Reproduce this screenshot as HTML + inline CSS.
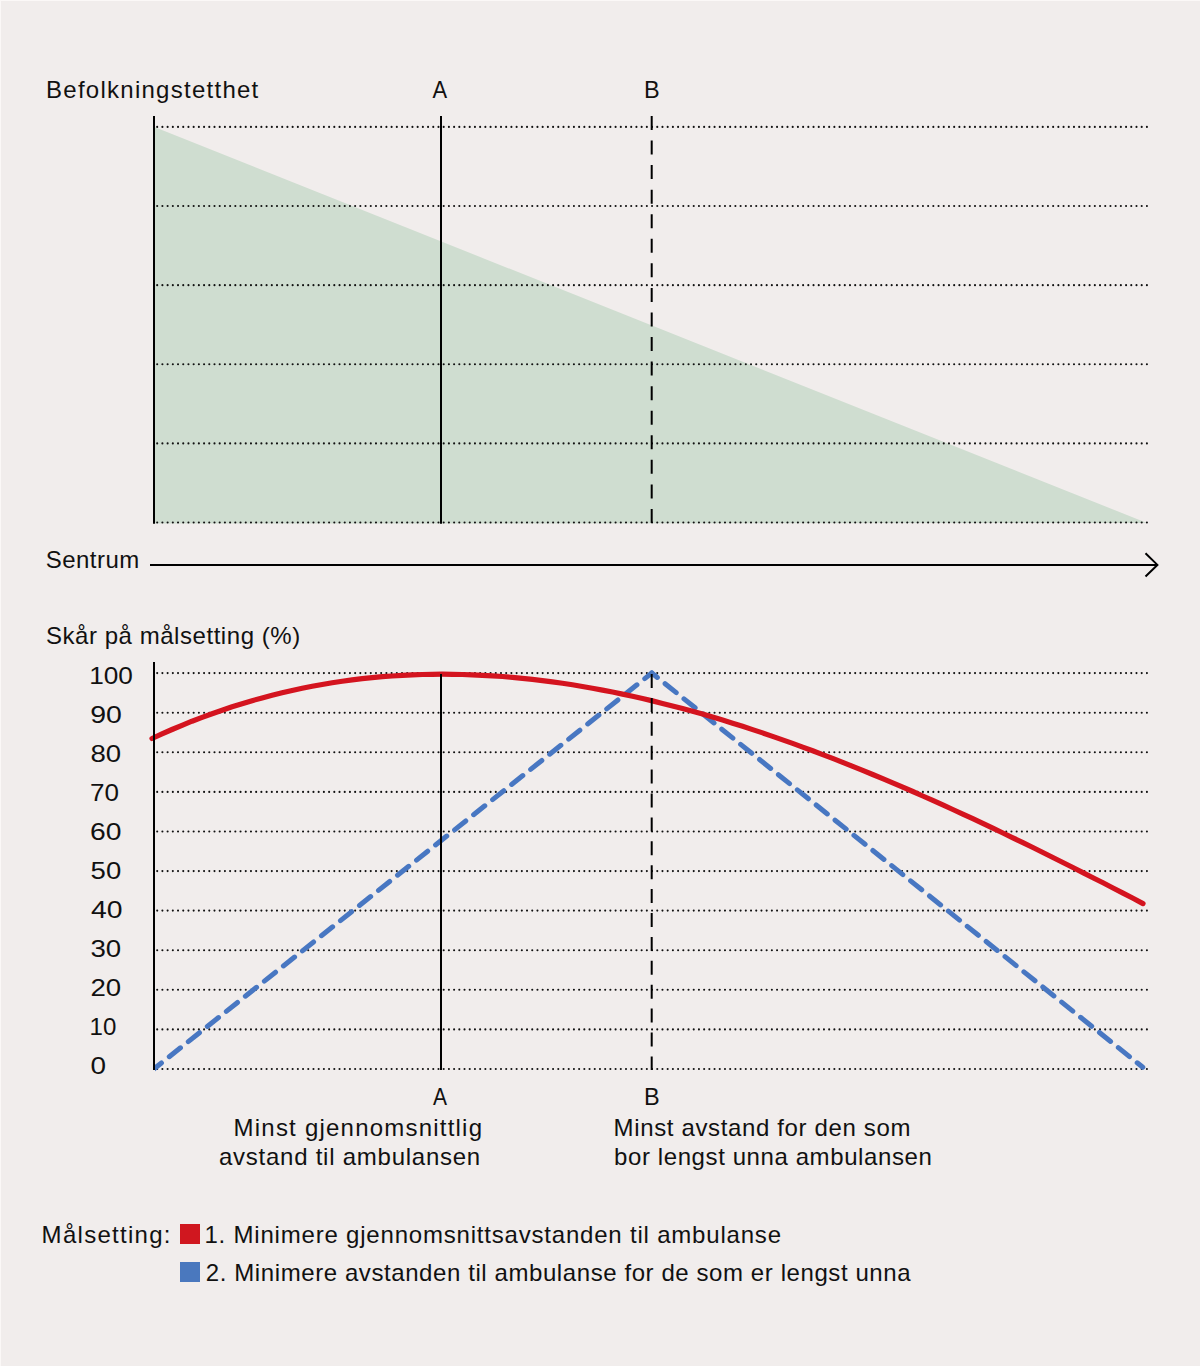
<!DOCTYPE html>
<html><head><meta charset="utf-8"><style>
html,body{margin:0;padding:0;background:#f1edec;}
svg{display:block}
.t{font-family:"Liberation Sans",sans-serif;font-size:24px;fill:#111;}
.blue{stroke:#4877c2;stroke-width:5;stroke-linecap:round;fill:none}
.dot{stroke:#111;stroke-width:2.1;stroke-dasharray:0 5.209;stroke-linecap:round}
</style></head><body>
<svg width="1200" height="1366" viewBox="0 0 1200 1366">
<defs><clipPath id="cb"><rect x="155" y="600" width="1000" height="480"/></clipPath></defs>
<rect x="0" y="0" width="1200" height="1366" fill="#f1edec"/>
<rect x="0" y="0" width="1200" height="1" fill="#fbf8f7"/>
<rect x="0" y="0" width="1" height="1366" fill="#fbf8f7"/>
<polygon points="155,127.3 1147,523 155,523.6" fill="#cfddd0"/>
<line x1="157.2" y1="126.9" x2="1148" y2="126.9" class="dot"/><line x1="157.2" y1="206.02" x2="1148" y2="206.02" class="dot"/><line x1="157.2" y1="285.14" x2="1148" y2="285.14" class="dot"/><line x1="157.2" y1="364.26" x2="1148" y2="364.26" class="dot"/><line x1="157.2" y1="443.38" x2="1148" y2="443.38" class="dot"/><line x1="157.2" y1="522.5" x2="1148" y2="522.5" class="dot"/>
<line x1="154" y1="116" x2="154" y2="523.8" stroke="#000" stroke-width="2"/>
<line x1="441" y1="116" x2="441" y2="523.8" stroke="#000" stroke-width="2"/>
<line x1="651.7" y1="116" x2="651.7" y2="523.4" stroke="#000" stroke-width="2" stroke-dasharray="14 10.56"/>
<line x1="150" y1="564.9" x2="1157" y2="564.9" stroke="#000" stroke-width="2"/>
<polyline points="1145.5,553.3 1157.4,564.9 1145.5,576.5" fill="none" stroke="#000" stroke-width="2"/>
<line x1="157.2" y1="673.1" x2="1148" y2="673.1" class="dot"/><line x1="157.2" y1="712.7" x2="1148" y2="712.7" class="dot"/><line x1="157.2" y1="752.3" x2="1148" y2="752.3" class="dot"/><line x1="157.2" y1="791.9" x2="1148" y2="791.9" class="dot"/><line x1="157.2" y1="831.5" x2="1148" y2="831.5" class="dot"/><line x1="157.2" y1="871.1" x2="1148" y2="871.1" class="dot"/><line x1="157.2" y1="910.6" x2="1148" y2="910.6" class="dot"/><line x1="157.2" y1="950.2" x2="1148" y2="950.2" class="dot"/><line x1="157.2" y1="989.8" x2="1148" y2="989.8" class="dot"/><line x1="157.2" y1="1029.4" x2="1148" y2="1029.4" class="dot"/><line x1="157.2" y1="1069.0" x2="1148" y2="1069.0" class="dot"/>

<line x1="153.8" y1="1069" x2="651.8" y2="673" class="blue" clip-path="url(#cb)" stroke-dasharray="14.3 10.0" stroke-dashoffset="4.55"/>
<line x1="651.8" y1="673" x2="1142.8" y2="1067.3" class="blue" stroke-dasharray="14.3 9.92" stroke-dashoffset="7.15"/>
<polyline points="152.0,738.5 162.0,733.9 172.0,729.5 182.0,725.3 192.0,721.2 202.1,717.4 212.1,713.7 222.1,710.2 232.1,706.8 242.1,703.7 252.1,700.7 262.1,697.9 272.1,695.3 282.1,692.8 292.1,690.5 302.2,688.3 312.2,686.3 322.2,684.5 332.2,682.8 342.2,681.3 352.2,679.9 362.2,678.7 372.2,677.7 382.2,676.7 392.2,676.0 402.3,675.3 412.3,674.9 422.3,674.5 432.3,674.3 442.3,674.2 452.3,674.3 462.3,674.5 472.3,674.8 482.3,675.3 492.3,675.8 502.4,676.5 512.4,677.4 522.4,678.3 532.4,679.4 542.4,680.6 552.4,681.9 562.4,683.3 572.4,684.8 582.4,686.5 592.4,688.2 602.5,690.1 612.5,692.0 622.5,694.1 632.5,696.3 642.5,698.5 652.5,700.9 662.5,703.4 672.5,705.9 682.5,708.6 692.5,711.3 702.6,714.1 712.6,717.1 722.6,720.1 732.6,723.2 742.6,726.3 752.6,729.6 762.6,732.9 772.6,736.4 782.6,739.9 792.6,743.4 802.7,747.1 812.7,750.8 822.7,754.6 832.7,758.4 842.7,762.3 852.7,766.3 862.7,770.4 872.7,774.5 882.7,778.7 892.7,782.9 902.8,787.2 912.8,791.5 922.8,796.0 932.8,800.4 942.8,804.9 952.8,809.5 962.8,814.1 972.8,818.7 982.8,823.4 992.8,828.2 1002.9,833.0 1012.9,837.8 1022.9,842.6 1032.9,847.5 1042.9,852.5 1052.9,857.5 1062.9,862.5 1072.9,867.5 1082.9,872.6 1092.9,877.7 1103.0,882.8 1113.0,888.0 1123.0,893.1 1133.0,898.3 1143.0,903.6" fill="none" stroke="#d4141f" stroke-width="5.2" stroke-linejoin="round" stroke-linecap="round"/>
<line x1="154" y1="662" x2="154" y2="1070" stroke="#000" stroke-width="2"/>
<line x1="441" y1="674" x2="441" y2="1070" stroke="#000" stroke-width="2"/>
<line x1="651.7" y1="674" x2="651.7" y2="1070" stroke="#000" stroke-width="2" stroke-dasharray="14 9.9"/>
<rect x="180" y="1224" width="20" height="20" fill="#d0171f"/>
<rect x="180" y="1262" width="20" height="20" fill="#4a78be"/>
<text x="46.00" y="97.5" class="t" textLength="212.28" lengthAdjust="spacing">Befolkningstetthet</text>
<text x="432.59" y="98" class="t" textLength="14.63" lengthAdjust="spacingAndGlyphs">A</text>
<text x="644.10" y="98" class="t" textLength="15.66" lengthAdjust="spacingAndGlyphs">B</text>
<text x="45.64" y="568" class="t" textLength="93.70" lengthAdjust="spacing">Sentrum</text>
<text x="45.94" y="644.3" class="t" textLength="254.23" lengthAdjust="spacing">Skår på målsetting (%)</text>
<text x="433.05" y="1105" class="t" textLength="14.02" lengthAdjust="spacingAndGlyphs">A</text>
<text x="644.10" y="1105" class="t" textLength="15.66" lengthAdjust="spacingAndGlyphs">B</text>
<text x="233.59" y="1135.75" class="t" textLength="248.42" lengthAdjust="spacing">Minst gjennomsnittlig</text>
<text x="218.97" y="1164.75" class="t" textLength="261.26" lengthAdjust="spacing">avstand til ambulansen</text>
<text x="613.55" y="1135.75" class="t" textLength="296.93" lengthAdjust="spacing">Minst avstand for den som</text>
<text x="614.10" y="1164.75" class="t" textLength="317.66" lengthAdjust="spacing">bor lengst unna ambulansen</text>
<text x="41.62" y="1243" class="t" textLength="128.91" lengthAdjust="spacing">Målsetting:</text>
<text x="204.45" y="1243" class="t" textLength="576.54" lengthAdjust="spacing">1. Minimere gjennomsnittsavstanden til ambulanse</text>
<text x="205.87" y="1281" class="t" textLength="704.71" lengthAdjust="spacing">2. Minimere avstanden til ambulanse for de som er lengst unna</text>
<text x="89.23" y="683.8" class="t" textLength="43.74" lengthAdjust="spacingAndGlyphs">100</text>
<text x="90.17" y="722.84" class="t" textLength="31.69" lengthAdjust="spacingAndGlyphs">90</text>
<text x="90.41" y="761.88" class="t" textLength="30.69" lengthAdjust="spacingAndGlyphs">80</text>
<text x="90.02" y="800.92" class="t" textLength="28.98" lengthAdjust="spacingAndGlyphs">70</text>
<text x="90.12" y="839.96" class="t" textLength="31.47" lengthAdjust="spacingAndGlyphs">60</text>
<text x="90.64" y="879.0" class="t" textLength="30.62" lengthAdjust="spacingAndGlyphs">50</text>
<text x="90.93" y="918.04" class="t" textLength="31.55" lengthAdjust="spacingAndGlyphs">40</text>
<text x="90.42" y="957.08" class="t" textLength="30.77" lengthAdjust="spacingAndGlyphs">30</text>
<text x="90.43" y="996.12" class="t" textLength="30.74" lengthAdjust="spacingAndGlyphs">20</text>
<text x="89.63" y="1035.16" class="t" textLength="26.79" lengthAdjust="spacingAndGlyphs">10</text>
<text x="90.63" y="1074.2" class="t" textLength="15.55" lengthAdjust="spacingAndGlyphs">0</text>
</svg>
</body></html>
